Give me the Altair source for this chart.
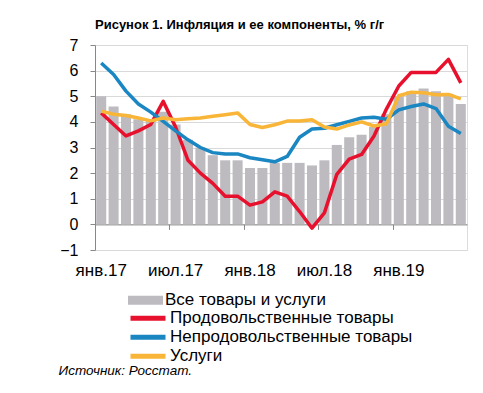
import altair as alt
import pandas as pd

months = ["янв.17", "фев.17", "мар.17", "апр.17", "май.17", "июн.17",
          "июл.17", "авг.17", "сен.17", "окт.17", "ноя.17", "дек.17",
          "янв.18", "фев.18", "мар.18", "апр.18", "май.18", "июн.18",
          "июл.18", "авг.18", "сен.18", "окт.18", "ноя.18", "дек.18",
          "янв.19", "фев.19", "мар.19", "апр.19", "май.19", "июн.19"]
tick_months = ["янв.17", "июл.17", "янв.18", "июл.18", "янв.19"]

all_items = [5.0, 4.6, 4.3, 4.1, 4.1, 4.4, 3.9, 3.3, 3.0, 2.7, 2.5, 2.5,
             2.2, 2.2, 2.4, 2.4, 2.4, 2.3, 2.5, 3.1, 3.4, 3.5, 3.8, 4.3,
             5.0, 5.2, 5.3, 5.2, 5.1, 4.7]
food = [4.35, 3.9, 3.45, 3.65, 3.9, 4.8, 3.8, 2.5, 2.0, 1.6, 1.1, 1.1,
        0.75, 0.88, 1.27, 1.1, 0.5, -0.15, 0.45, 1.95, 2.55, 2.73, 3.45, 4.5,
        5.4, 5.93, 5.93, 5.93, 6.44, 5.52]
nonfood = [6.3, 5.85, 5.2, 4.7, 4.38, 4.02, 3.65, 3.3, 3.0, 2.8, 2.75, 2.75,
           2.6, 2.52, 2.44, 2.65, 3.4, 3.72, 3.75, 3.89, 4.02, 4.15, 4.18, 4.1,
           4.47, 4.6, 4.7, 4.52, 3.83, 3.55]
services = [4.42, 4.3, 4.25, 4.15, 4.04, 4.15, 4.08, 4.12, 4.15, 4.22, 4.28, 4.35,
            3.9, 3.78, 3.89, 4.03, 4.03, 4.08, 3.8, 3.72, 3.88, 4.0, 3.84, 3.93,
            5.02, 5.16, 5.14, 5.06, 5.07, 4.9]

bar_name = "Все товары и услуги"
series_names = ["Продовольственные товары", "Непродовольственные товары", "Услуги"]
series_colors = ["#e8112d", "#1a86c2", "#f9b537"]
bar_color = "#bdbbc0"
FONT = "Liberation Sans"

bars_df = pd.DataFrame({"month": months, "value": all_items, "name": bar_name})
lines_df = pd.concat([
    pd.DataFrame({"month": months, "value": vals, "series": name})
    for name, vals in zip(series_names, [food, nonfood, services])
], ignore_index=True)

x_scale = alt.Scale(domain=months, paddingInner=0.19, paddingOuter=0.095)
y_scale = alt.Scale(domain=[-1, 7], nice=False, zero=False)
y_axis = alt.Axis(values=list(range(-1, 8)), title=None, labelFontSize=16,
                  labelFont=FONT, labelColor="#000000", labelPadding=12,
                  tickSize=5, tickColor="#888888", domainColor="#888888",
                  gridColor="#d9d9d9", grid=True)

bars = alt.Chart(bars_df).mark_bar().encode(
    x=alt.X("month:N", scale=x_scale, sort=months,
            axis=alt.Axis(orient="bottom", values=tick_months, labelAngle=0,
                          domain=False, ticks=False, tickSize=0, labelFontSize=17,
                          labelFont=FONT, labelColor="#000000", labelPadding=12,
                          grid=False, title="Источник: Росстат.", titleFont=FONT,
                          titleFontSize=13.5, titleFontStyle="italic",
                          titleFontWeight="normal", titleColor="#000000",
                          titleX=-37, titleY=120, titleAlign="left",
                          titleBaseline="middle")),
    y=alt.Y("value:Q", scale=y_scale, axis=y_axis),
    fill=alt.Fill("name:N", scale=alt.Scale(domain=[bar_name], range=[bar_color]),
                  legend=alt.Legend(orient="none", legendX=33, legendY=246.5, title=None,
                                    symbolType="M-1,-0.26H1V0.26H-1Z", symbolSize=1225,
                                    symbolStrokeWidth=0, labelFontSize=17, labelFont=FONT,
                                    labelColor="#000000", labelOffset=2, clipHeight=17.5,
                                    rowPadding=0, padding=0, labelLimit=400)),
)

lines = alt.Chart(lines_df).mark_line(strokeWidth=3.5, strokeJoin="round").encode(
    x=alt.X("month:N", scale=x_scale, sort=months,
            axis=alt.Axis(orient="bottom", values=tick_months, labels=False,
                          bandPosition=0, tickOffset=-1.2, domain=True,
                          domainColor="#888888", tickColor="#888888", tickSize=5,
                          offset=-25.6, grid=False, title=None)),
    y=alt.Y("value:Q", scale=y_scale, axis=y_axis),
    stroke=alt.Stroke("series:N", scale=alt.Scale(domain=series_names, range=series_colors),
                      legend=alt.Legend(orient="none", legendX=33, legendY=264.5, title=None,
                                        symbolType="stroke", symbolSize=1225,
                                        symbolStrokeWidth=5, labelFontSize=17,
                                        labelFont=FONT, labelColor="#000000",
                                        labelOffset=2, clipHeight=17.5, rowPadding=0,
                                        padding=0, labelLimit=400)),
    order=alt.Order("series:N", sort="ascending"),
)

chart = alt.layer(bars, lines).resolve_axis(x="independent").properties(
    width=372, height=205,
    title=alt.TitleParams("Рисунок 1. Инфляция и ее компоненты, % г/г", anchor="start",
                          frame="group", font=FONT, fontSize=13, fontWeight="bold",
                          color="#000000", baseline="alphabetic", offset=15, dy=20),
    autosize=alt.AutoSizeParams(type="none"),
    padding={"left": 87, "top": 37, "right": 8, "bottom": 135},
).configure_view(stroke=None).configure(background="#ffffff")

chart.save("out.html", embed_options={"renderer": "svg", "actions": False})
